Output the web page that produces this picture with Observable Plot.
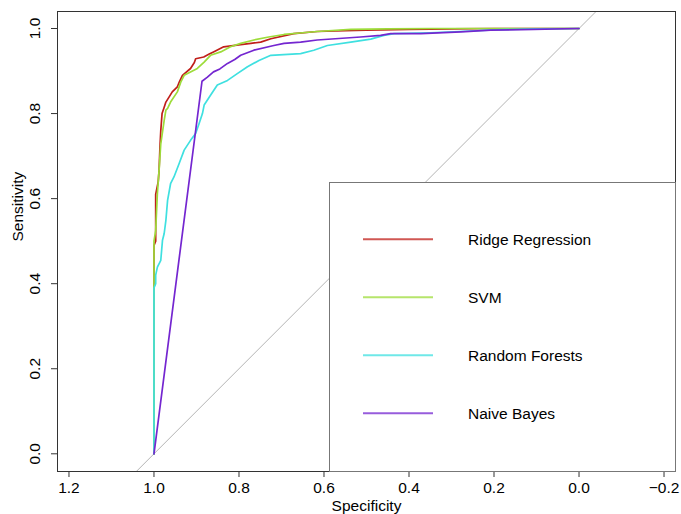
<!DOCTYPE html>
<html><head><meta charset="utf-8">
<script src="https://cdn.jsdelivr.net/npm/d3@7"></script>
<script src="https://cdn.jsdelivr.net/npm/@observablehq/plot@0.6"></script>
<style>
body{margin:0;background:#fff;}
#chart{position:relative;width:681px;height:514px;font-family:"Liberation Sans",Arial,Helvetica,sans-serif;}
#legend{position:absolute;left:329px;top:182px;width:347px;height:290px;background:#fff;border:1px solid #777;box-sizing:border-box;}
</style></head><body><div id="chart"><div id="legend"></div></div>
<script>
const models = ["Ridge Regression", "SVM", "Random Forests", "Naive Bayes"];
const colors = ["#c01f1a", "#9ddc3a", "#3fe0e0", "#7426d0"];

const ridgeSpec = [1.0, 1.0, 0.996, 0.996, 0.99, 0.988, 0.986, 0.984, 0.981, 0.976, 0.972, 0.965, 0.957, 0.945, 0.94, 0.933, 0.914, 0.905, 0.902, 0.883, 0.87, 0.86, 0.836, 0.796, 0.772, 0.749, 0.725, 0.671, 0.616, 0.55, 0.5, 0.4, 0.3, 0.2, 0.0];
const ridgeSens = [0.0, 0.49, 0.50, 0.61, 0.64, 0.667, 0.72, 0.76, 0.80, 0.815, 0.827, 0.838, 0.851, 0.863, 0.875, 0.89, 0.906, 0.92, 0.929, 0.933, 0.94, 0.945, 0.957, 0.962, 0.965, 0.968, 0.976, 0.988, 0.993, 0.995, 0.996, 0.998, 0.999, 1.0, 1.0];

const svmSpec = [1.0, 1.0, 0.996, 0.992, 0.988, 0.984, 0.976, 0.972, 0.968, 0.961, 0.945, 0.937, 0.929, 0.898, 0.882, 0.867, 0.843, 0.82, 0.796, 0.765, 0.73, 0.694, 0.65, 0.616, 0.537, 0.45, 0.35, 0.0];
const svmSens = [0.0, 0.5, 0.525, 0.612, 0.667, 0.729, 0.784, 0.808, 0.812, 0.827, 0.851, 0.874, 0.89, 0.906, 0.921, 0.937, 0.945, 0.957, 0.965, 0.973, 0.98, 0.986, 0.99, 0.993, 0.998, 0.999, 1.0, 1.0];

const rfSpec = [1.0, 1.0, 0.996, 0.996, 0.992, 0.984, 0.98, 0.976, 0.972, 0.968, 0.961, 0.953, 0.941, 0.929, 0.914, 0.902, 0.894, 0.886, 0.882, 0.867, 0.851, 0.827, 0.804, 0.78, 0.753, 0.725, 0.655, 0.624, 0.592, 0.537, 0.49, 0.459, 0.435, 0.35, 0.28, 0.2, 0.1, 0.0];
const rfSens = [0.0, 0.39, 0.40, 0.42, 0.439, 0.455, 0.502, 0.518, 0.549, 0.596, 0.635, 0.651, 0.682, 0.714, 0.737, 0.753, 0.776, 0.8, 0.82, 0.843, 0.867, 0.878, 0.894, 0.91, 0.925, 0.937, 0.941, 0.949, 0.96, 0.968, 0.975, 0.984, 0.988, 0.99, 0.993, 0.997, 0.999, 1.0];

const nbSpec = [1.0, 0.887, 0.875, 0.86, 0.845, 0.827, 0.81, 0.796, 0.765, 0.718, 0.694, 0.655, 0.616, 0.514, 0.467, 0.443, 0.372, 0.278, 0.208, 0.107, 0.0];
const nbSens = [0.0, 0.876, 0.885, 0.898, 0.905, 0.918, 0.927, 0.937, 0.949, 0.96, 0.965, 0.968, 0.973, 0.98, 0.984, 0.988, 0.988, 0.992, 0.996, 0.998, 1.0];

const xTicks = [1.2, 1.0, 0.8, 0.6, 0.4, 0.2, 0.0, -0.2];
const yTicks = [0.0, 0.2, 0.4, 0.6, 0.8, 1.0];
const diagSpec = [1.3, -0.3];

const series = [[ridgeSpec, ridgeSens], [svmSpec, svmSens], [rfSpec, rfSens], [nbSpec, nbSens]];
const rows = series.flatMap(([sp, se], i) => sp.map((s, j) => ({model: models[i], spec: s, sens: se[j]})));
const diag = diagSpec.map(s => ({spec: s, sens: 1 - s}));

const font = '"Liberation Sans", Arial, Helvetica, sans-serif';
const fmt = d3.format(".1f");

const chart = Plot.plot({
  width: 681, height: 514,
  marginLeft: 57, marginRight: 6, marginTop: 11, marginBottom: 43,
  style: {fontSize: "15.5px", fontFamily: font, color: "#000", background: "#fff"},
  x: {domain: [1.227, -0.227]},
  y: {domain: [-0.0416, 1.04]},
  color: {domain: models, range: colors},
  marks: [
    Plot.line(diag, {x: "spec", y: "sens", stroke: "#b4b4b4", strokeWidth: 1, clip: true}),
    Plot.line(rows, {x: "spec", y: "sens", z: "model", stroke: "model", strokeWidth: 1.7}),
    Plot.frame({stroke: "#333"}),
    Plot.axisX({ticks: xTicks, tickFormat: fmt, tickSize: 6, tickPadding: 4, label: null, stroke: "#333"}),
    Plot.axisY({ticks: yTicks, tickFormat: fmt, tickSize: 6, tickPadding: 16, tickRotate: -90, textAnchor: "middle", lineAnchor: "middle", label: null, stroke: "#333"}),
    Plot.text(["Specificity"], {text: d => d, frameAnchor: "bottom", dy: 39}),
    Plot.text(["Sensitivity"], {text: d => d, frameAnchor: "left", dx: -39.5, rotate: -90})
  ]
});
const container = document.getElementById("chart");
container.insertBefore(chart, container.firstChild);

// legend
const lg = d3.select("#legend").append("svg").attr("width", 345).attr("height", 288)
  .style("font-family", font).style("font-size", "15.5px");
const rowY = [57.3, 115.3, 173.3, 231.3];
const item = lg.selectAll("g").data(models).join("g")
  .attr("transform", (d, i) => `translate(0,${rowY[i] - 1})`);
item.append("line").attr("x1", 33).attr("x2", 103).attr("y1", 0).attr("y2", 0)
  .attr("stroke", (d, i) => colors[i]).attr("stroke-width", 2).attr("stroke-opacity", 0.75);
item.append("text").attr("x", 138).attr("y", 0).attr("dy", "0.35em").text(d => d);
</script></body></html>
